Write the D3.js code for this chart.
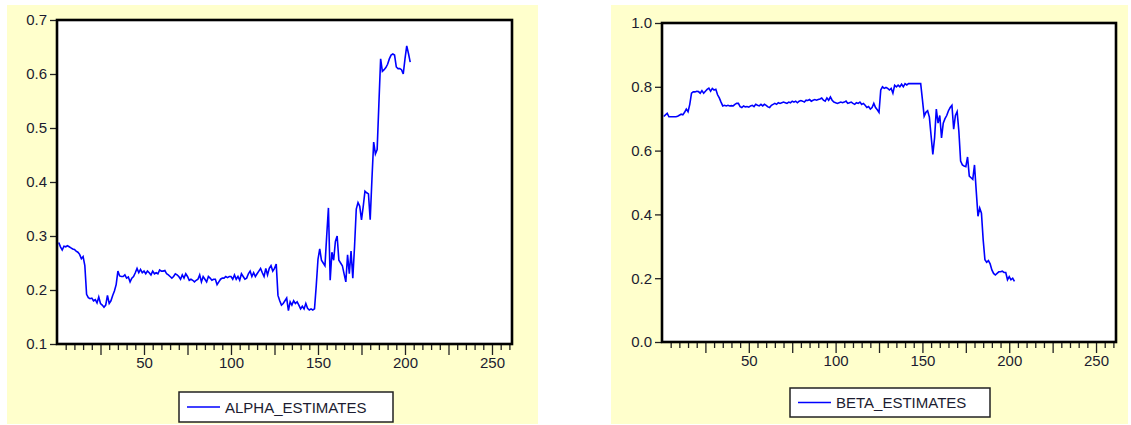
<!DOCTYPE html>
<html>
<head>
<meta charset="utf-8">
<script src="https://cdn.jsdelivr.net/npm/d3@7"></script>
<style>
  body { margin: 0; background: #ffffff; }
  svg text { font-family: "Liberation Sans", Arial, sans-serif; }
</style>
</head>
<body>
<svg id="chart" width="1131" height="425"></svg>
<script>
// observation values, obs 1..203
const alphaEstimates = [
  0.288, 0.280, 0.274, 0.281, 0.280, 0.282, 0.280, 0.278, 0.276, 0.275,
  0.272, 0.270, 0.266, 0.258, 0.262, 0.245, 0.192, 0.186, 0.184, 0.185,
  0.180, 0.182, 0.176, 0.187, 0.175, 0.172, 0.168, 0.172, 0.190, 0.175,
  0.180, 0.190, 0.198, 0.210, 0.235, 0.226, 0.225, 0.225, 0.228, 0.222,
  0.224, 0.215, 0.222, 0.225, 0.232, 0.240, 0.232, 0.238, 0.232, 0.235,
  0.230, 0.235, 0.232, 0.228, 0.235, 0.230, 0.232, 0.230, 0.237, 0.235,
  0.235, 0.236, 0.230, 0.228, 0.225, 0.222, 0.225, 0.230, 0.228, 0.225,
  0.220, 0.228, 0.222, 0.230, 0.225, 0.218, 0.220, 0.218, 0.215, 0.218,
  0.220, 0.228, 0.215, 0.225, 0.220, 0.215, 0.225, 0.222, 0.218, 0.220,
  0.220, 0.210, 0.215, 0.220, 0.222, 0.222, 0.225, 0.223, 0.225, 0.225,
  0.220, 0.228, 0.220, 0.225, 0.218, 0.230, 0.225, 0.220, 0.222, 0.230,
  0.235, 0.225, 0.232, 0.225, 0.230, 0.235, 0.240, 0.232, 0.225, 0.240,
  0.228, 0.240, 0.245, 0.235, 0.240, 0.248, 0.190, 0.180, 0.172, 0.175,
  0.180, 0.185, 0.162, 0.178, 0.172, 0.180, 0.175, 0.178, 0.172, 0.165,
  0.170, 0.165, 0.175, 0.166, 0.163, 0.165, 0.163, 0.165, 0.208, 0.257,
  0.276, 0.255, 0.250, 0.245, 0.300, 0.352, 0.218, 0.270, 0.255, 0.290,
  0.300, 0.255, 0.250, 0.245, 0.230, 0.215, 0.265, 0.230, 0.272, 0.222,
  0.280, 0.350, 0.362, 0.355, 0.330, 0.355, 0.383, 0.380, 0.378, 0.330,
  0.405, 0.474, 0.452, 0.460, 0.545, 0.628, 0.605, 0.608, 0.612, 0.618,
  0.628, 0.635, 0.637, 0.635, 0.613, 0.610, 0.610, 0.608, 0.600, 0.628,
  0.652, 0.638, 0.622
];

const betaEstimates = [
  0.707, 0.712, 0.717, 0.706, 0.706, 0.706, 0.706, 0.706, 0.708, 0.711,
  0.714, 0.712, 0.720, 0.730, 0.722, 0.745, 0.780, 0.784, 0.784, 0.786,
  0.785, 0.780, 0.788, 0.780, 0.786, 0.792, 0.796, 0.786, 0.795, 0.790,
  0.792, 0.775, 0.765, 0.752, 0.740, 0.742, 0.740, 0.742, 0.740, 0.741,
  0.740, 0.745, 0.748, 0.748, 0.738, 0.735, 0.740, 0.737, 0.738, 0.736,
  0.740, 0.742, 0.738, 0.745, 0.742, 0.740, 0.745, 0.740, 0.745, 0.742,
  0.737, 0.735, 0.742, 0.745, 0.748, 0.745, 0.750, 0.748, 0.750, 0.752,
  0.750, 0.748, 0.752, 0.750, 0.755, 0.752, 0.755, 0.750, 0.755, 0.757,
  0.755, 0.752, 0.758, 0.757, 0.760, 0.755, 0.758, 0.760, 0.758, 0.760,
  0.762, 0.765, 0.758, 0.755, 0.765, 0.758, 0.768, 0.758, 0.752, 0.750,
  0.748, 0.750, 0.752, 0.750, 0.752, 0.755, 0.748, 0.750, 0.752, 0.748,
  0.745, 0.750, 0.748, 0.752, 0.745, 0.748, 0.742, 0.735, 0.738, 0.730,
  0.735, 0.748, 0.735, 0.728, 0.720, 0.790, 0.800, 0.795, 0.798, 0.795,
  0.790, 0.795, 0.780, 0.805, 0.800, 0.805, 0.800, 0.808, 0.800, 0.810,
  0.806, 0.810, 0.810, 0.810, 0.810, 0.810, 0.810, 0.810, 0.810, 0.760,
  0.708, 0.720, 0.725, 0.705, 0.646, 0.588, 0.640, 0.730, 0.686, 0.710,
  0.640, 0.686, 0.700, 0.710, 0.725, 0.735, 0.742, 0.667, 0.710, 0.722,
  0.660, 0.567, 0.555, 0.552, 0.550, 0.580, 0.520, 0.515, 0.510, 0.555,
  0.473, 0.394, 0.420, 0.404, 0.320, 0.258, 0.250, 0.255, 0.245, 0.226,
  0.215, 0.210, 0.215, 0.220, 0.220, 0.222, 0.218, 0.218, 0.195, 0.205,
  0.195, 0.200, 0.190
];

const xTickLabels = [50, 100, 150, 200, 250];
const alphaTicks = [0.1, 0.2, 0.3, 0.4, 0.5, 0.6, 0.7];
const betaTicks = [0.0, 0.2, 0.4, 0.6, 0.8, 1.0];

const svg = d3.select("#chart");

function drawPanel(opts) {
  const g = svg.append("g");

  // yellow backdrop
  g.append("rect")
    .attr("x", opts.bg[0]).attr("y", opts.bg[1])
    .attr("width", opts.bg[2]).attr("height", opts.bg[3])
    .attr("fill", "#ffffcc");

  const [left, top, right, bottom] = opts.plot;
  const x = d3.scaleLinear().domain([0, 261.5]).range([left, right]);
  const y = d3.scaleLinear().domain(opts.yDomain).range([bottom, top]);

  g.append("rect")
    .attr("x", left).attr("y", top)
    .attr("width", right - left).attr("height", bottom - top)
    .attr("fill", "#ffffff");

  // y axis, ticks outside only
  const yAxis = g.append("g")
    .attr("transform", `translate(${left},0)`)
    .call(d3.axisLeft(y).tickValues(opts.yTicks).tickFormat(d3.format(".1f")).tickSize(7).tickPadding(3));
  yAxis.select(".domain").remove();
  yAxis.selectAll("line").attr("stroke", "#222").attr("stroke-width", 1.3);
  yAxis.selectAll("text").attr("font-size", 15).attr("fill", "#1c1c30");

  // x axis: minor every 5, long every 25, labels every 50
  const minor = d3.range(5, 261, 5);
  const xMinor = g.append("g")
    .attr("transform", `translate(0,${bottom})`)
    .call(d3.axisBottom(x).tickValues(minor).tickSize(6).tickFormat(""));
  xMinor.select(".domain").remove();
  xMinor.selectAll("line")
    .attr("y2", d => d % 25 === 0 ? 11 : 6)
    .attr("stroke", "#222").attr("stroke-width", 1.3);

  const xAxis = g.append("g")
    .attr("transform", `translate(0,${bottom})`)
    .call(d3.axisBottom(x).tickValues(xTickLabels).tickSize(0).tickPadding(13));
  xAxis.select(".domain").remove();
  xAxis.selectAll("text").attr("font-size", 15).attr("fill", "#1c1c30");

  const line = d3.line()
    .x((d, i) => x(i + 1))
    .y(d => y(d));

  g.append("path")
    .datum(opts.values)
    .attr("d", line)
    .attr("fill", "none")
    .attr("stroke", "#0000ff")
    .attr("stroke-width", 1.6)
    .attr("stroke-linejoin", "miter");

  // frame
  g.append("rect")
    .attr("x", left).attr("y", top)
    .attr("width", right - left).attr("height", bottom - top)
    .attr("fill", "none")
    .attr("stroke", "#000")
    .attr("stroke-width", 2.6);

  // legend
  const [lx, ly, lw, lh] = opts.legend;
  g.append("rect")
    .attr("x", lx).attr("y", ly).attr("width", lw).attr("height", lh)
    .attr("fill", "#ffffff").attr("stroke", "#222").attr("stroke-width", 1.5);
  g.append("line")
    .attr("x1", lx + 8).attr("x2", lx + 41)
    .attr("y1", ly + lh / 2).attr("y2", ly + lh / 2)
    .attr("stroke", "#0000ff").attr("stroke-width", 1.4);
  g.append("text")
    .attr("x", lx + 46).attr("y", ly + lh / 2 + 5.5)
    .attr("font-size", 15).attr("fill", "#1c1c30")
    .text(opts.name);
}

drawPanel({
  bg: [7, 5, 531, 419],
  plot: [57, 20, 512, 344],
  yDomain: [0.1, 0.7],
  yTicks: alphaTicks,
  values: alphaEstimates,
  legend: [179, 392, 214, 30],
  name: "ALPHA_ESTIMATES"
});

drawPanel({
  bg: [611, 5, 517, 419],
  plot: [662, 23, 1116, 342],
  yDomain: [0, 1],
  yTicks: betaTicks,
  values: betaEstimates,
  legend: [790, 388, 200, 29],
  name: "BETA_ESTIMATES"
});
</script>
</body>
</html>
